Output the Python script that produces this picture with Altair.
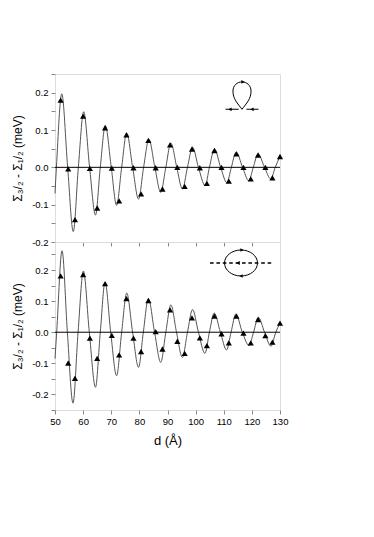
import altair as alt
import pandas as pd

# ---------------- data ----------------
d_pts = [52.0, 54.7, 57.1, 60.0, 62.4, 65.0, 67.8, 70.2, 72.8, 75.4, 77.9, 80.6,
         83.2, 85.8, 88.2, 90.9, 93.5, 96.1, 98.7, 101.5, 104.0, 106.7, 109.2,
         111.8, 114.5, 117.0, 119.6, 122.2, 124.8, 127.3, 130.0]

top_pts = [0.180, -0.004, -0.140, 0.137, -0.003, -0.109, 0.106, -0.002, -0.090,
           0.087, -0.001, -0.071, 0.072, -0.001, -0.058, 0.060, 0.000, -0.051,
           0.049, -0.001, -0.043, 0.045, 0.000, -0.037, 0.036, 0.000, -0.031,
           0.033, 0.000, -0.028, 0.029]

bot_pts = [0.181, -0.099, -0.148, 0.185, -0.019, -0.084, 0.156, -0.010, -0.073,
           0.108, -0.019, -0.062, 0.102, 0.002, -0.054, 0.072, -0.029, -0.068,
           0.046, -0.018, -0.043, 0.052, -0.005, -0.034, 0.052, -0.003, -0.034,
           0.041, -0.011, -0.032, 0.029]

top_curve_x = [50.0, 50.5, 52.4, 54.5, 56.5, 58.3, 60.2, 62.3, 64.4, 66.1, 67.9,
               70.0, 71.9, 73.7, 75.5, 77.6, 79.7, 81.5, 83.4, 85.5, 87.6, 89.4,
               91.2, 93.3, 95.3, 97.1, 98.9, 101.0, 103.4, 104.9, 106.7, 108.9,
               111.1, 112.7, 114.4, 116.7, 118.9, 120.5, 122.2, 124.5, 126.7,
               128.3, 130.0]
top_curve_y = [-0.070, 0.0, 0.197, 0.0, -0.172, 0.0, 0.149, 0.0, -0.128, 0.0,
               0.112, 0.0, -0.102, 0.0, 0.092, 0.0, -0.085, 0.0, 0.075, 0.0,
               -0.067, 0.0, 0.065, 0.0, -0.058, 0.0, 0.054, 0.0, -0.049, 0.0,
               0.049, 0.0, -0.041, 0.0, 0.041, 0.0, -0.036, 0.0, 0.036, 0.0,
               -0.031, 0.0, 0.030]

bot_curve_x = [50.0, 50.6, 52.5, 54.4, 56.4, 58.2, 60.1, 62.2, 64.4, 66.1, 67.8,
               69.8, 71.9, 73.7, 75.5, 77.6, 79.7, 81.4, 83.2, 85.4, 87.6, 89.4,
               91.2, 93.2, 95.3, 97.1, 98.9, 101.0, 103.3, 104.9, 106.6, 108.8,
               111.0, 112.6, 114.3, 116.6, 119.0, 120.6, 122.3, 124.5, 126.8,
               128.5, 130.0]
bot_curve_y = [-0.085, 0.0, 0.262, 0.0, -0.228, 0.0, 0.197, 0.0, -0.177, 0.0,
               0.161, 0.0, -0.140, 0.0, 0.126, 0.0, -0.113, 0.0, 0.108, 0.0,
               -0.097, 0.0, 0.088, 0.0, -0.081, 0.0, 0.073, 0.0, -0.068, 0.0,
               0.062, 0.0, -0.057, 0.0, 0.059, 0.0, -0.043, 0.0, 0.048, 0.0,
               -0.045, 0.0, 0.030]

x_ticks = [50, 60, 70, 80, 90, 100, 110, 120, 130]
top_y_ticks = [-0.2, -0.15, -0.1, -0.05, 0.0, 0.05, 0.1, 0.15, 0.2, 0.25]
bot_y_ticks = [-0.25, -0.2, -0.15, -0.1, -0.05, 0.0, 0.05, 0.1, 0.15, 0.2, 0.25]
zero_level = [0.0]

Y_TITLE = "Σ₃/₂ - Σ₁/₂  (meV)"
X_TITLE = "d  (Å)"

# ---------------- styling ----------------
FONT = "Liberation Sans"
W, H = 225, 168
CURVE_COL = "#555555"

xscale = alt.Scale(domain=[50, 130], nice=False, zero=False)

label_expr = ("abs(round(datum.value*100)) % 10 == 0 ? "
              "replace(format(datum.value, '.1f'), '\u2212', '-') : ''")


def ellipse_path(cx, cy, rx, ry):
    k = 0.5523
    return (f"M {cx-rx:.3f} {cy:.3f} "
            f"C {cx-rx:.3f} {cy-k*ry:.3f} {cx-k*rx:.3f} {cy-ry:.3f} {cx:.3f} {cy-ry:.3f} "
            f"C {cx+k*rx:.3f} {cy-ry:.3f} {cx+rx:.3f} {cy-k*ry:.3f} {cx+rx:.3f} {cy:.3f} "
            f"C {cx+rx:.3f} {cy+k*ry:.3f} {cx+k*rx:.3f} {cy+ry:.3f} {cx:.3f} {cy+ry:.3f} "
            f"C {cx-k*rx:.3f} {cy+ry:.3f} {cx-rx:.3f} {cy+k*ry:.3f} {cx-rx:.3f} {cy:.3f} Z")


def glyph(path, size, px, py, width=1.0):
    return alt.Chart(pd.DataFrame({"k": [0]})).mark_point(
        shape=path, size=size, filled=False, stroke="black",
        strokeWidth=width, opacity=1
    ).encode(x=alt.value(px), y=alt.value(py))


def arrow(shape, px, py, size=14):
    return alt.Chart(pd.DataFrame({"k": [0]})).mark_point(
        shape=shape, size=size, filled=True, color="black", opacity=1
    ).encode(x=alt.value(px), y=alt.value(py))


# top inset: teardrop loop with leads (square of 34 px centred at plot (187, 22))
loop = ("M 0 0.78 C -0.25 0.45 -0.55 0.15 -0.53 -0.3 "
        "C -0.53 -0.62 -0.28 -0.83 0 -0.83 "
        "C 0.28 -0.83 0.53 -0.62 0.53 -0.3 "
        "C 0.55 0.15 0.25 0.45 0 0.78 "
        "M -0.97 0.78 L -0.2 0.78 M 0.26 0.78 L 0.97 0.78")
top_inset = [
    glyph(loop, 34 * 34, 187, 22),
    arrow("triangle-right", 188, 7.9),
    arrow("triangle-left", 175, 35.3),
    arrow("triangle-left", 197, 35.3),
]

# bottom inset: ellipse with dashed line (square of 68 px centred at plot (187, 21))
dash_path = " ".join(
    f"M {(-32 + i * 6.4) / 34:.3f} 0 L {(-32 + i * 6.4 + 3.6) / 34:.3f} 0"
    for i in range(10))
bot_inset = [
    glyph(ellipse_path(0, 0, 16.5 / 34, 13 / 34), 68 * 68, 186, 21),
    glyph(dash_path, 68 * 68, 187, 21, width=1.3),
    arrow("triangle-right", 187, 8),
    arrow("triangle-left", 186, 34),
    arrow("triangle-left", 183, 21, size=18),
]


def panel(cx, cy, px_, py_, ydom, yticks, bottom, insets):
    df_c = pd.DataFrame({"d": cx, "v": cy})
    df_p = pd.DataFrame({"d": px_, "v": py_})
    df_z = pd.DataFrame({"z": zero_level})
    yscale = alt.Scale(domain=ydom, nice=False, zero=False)
    if bottom:
        xaxis = alt.Axis(values=x_ticks, format="d", title=X_TITLE,
                         titleFontSize=13, titleFontWeight="normal",
                         titlePadding=9, labelFontSize=9.5, tickSize=4,
                         labelPadding=2, domain=False, grid=False,
                         labelOverlap=False, labelFlush=False)
    else:
        xaxis = alt.Axis(values=x_ticks, labels=False, title=None, tickSize=4,
                         domain=False, grid=False)
    yaxis = alt.Axis(values=yticks, labelExpr=label_expr, title=Y_TITLE,
                     titleFontSize=12, titleFontWeight="normal", titlePadding=7,
                     labelFontSize=9.5, tickSize=4, labelPadding=3,
                     domain=False, grid=False, labelOverlap=False,
                     labelFlush=False)
    curve = alt.Chart(df_c).mark_line(
        color=CURVE_COL, strokeWidth=1, interpolate="monotone").encode(
        x=alt.X("d:Q", scale=xscale, axis=xaxis),
        y=alt.Y("v:Q", scale=yscale, axis=yaxis))
    zero = alt.Chart(df_z).mark_rule(
        color="black", strokeWidth=1).encode(
        y=alt.Y("z:Q", scale=yscale, axis=yaxis))
    pts = alt.Chart(df_p).mark_point(
        shape="triangle-up", filled=True, color="black", size=38, opacity=1
    ).encode(x=alt.X("d:Q", scale=xscale, axis=xaxis),
             y=alt.Y("v:Q", scale=yscale, axis=yaxis))
    return alt.layer(curve, zero, pts, *insets).properties(width=W, height=H)


top = panel(top_curve_x, top_curve_y, d_pts, top_pts, [-0.2, 0.25],
            top_y_ticks, False, top_inset)
bot = panel(bot_curve_x, bot_curve_y, d_pts, bot_pts, [-0.25, 0.29],
            bot_y_ticks, True, bot_inset)

chart = alt.vconcat(top, bot, spacing=0, bounds="flush").properties(
    padding={"top": 60, "left": 3, "right": 5, "bottom": 5}
).configure_view(
    stroke="#333333", strokeWidth=1
).configure_axis(
    labelFont=FONT, titleFont=FONT, labelColor="black", titleColor="black",
    tickColor="#333333", labelOverlap=False, labelFlush=False
).configure(background="white")

chart.save("out.html", embed_options={"renderer": "svg", "actions": False})
